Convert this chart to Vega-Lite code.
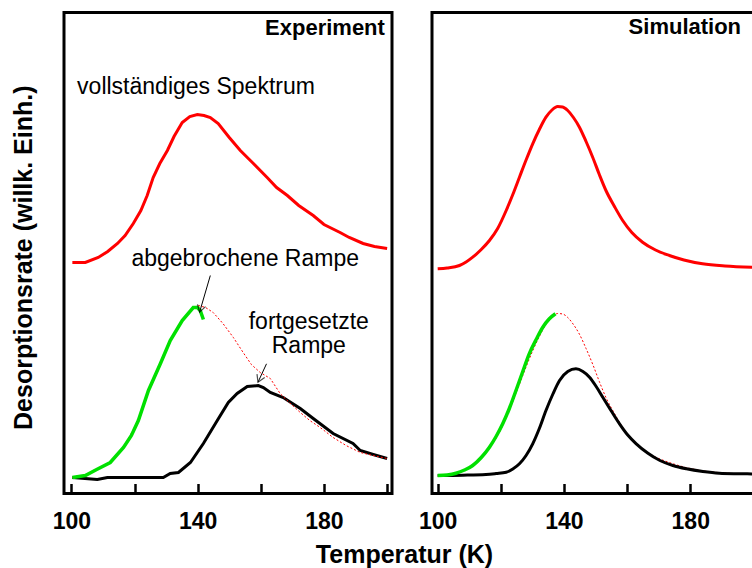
{
  "$schema": "https://vega.github.io/schema/vega-lite/v6.json",
  "background": "white",
  "padding": {"left": 9, "top": 10.5, "right": 0, "bottom": 0},
  "bounds": "flush",
  "spacing": 40,
  "config": {
    "view": {"stroke": "black", "strokeWidth": 3},
    "font": "Liberation Sans"
  },
  "datasets": {
    "curves": [
      {"p": "Experiment", "s": "voll", "T": 100.3, "y": 231},
      {"p": "Experiment", "s": "voll", "T": 104.4, "y": 231},
      {"p": "Experiment", "s": "voll", "T": 108.5, "y": 236},
      {"p": "Experiment", "s": "voll", "T": 111.5, "y": 242},
      {"p": "Experiment", "s": "voll", "T": 114.6, "y": 250},
      {"p": "Experiment", "s": "voll", "T": 117, "y": 258},
      {"p": "Experiment", "s": "voll", "T": 119.6, "y": 270},
      {"p": "Experiment", "s": "voll", "T": 122, "y": 283},
      {"p": "Experiment", "s": "voll", "T": 124, "y": 298},
      {"p": "Experiment", "s": "voll", "T": 125.9, "y": 316},
      {"p": "Experiment", "s": "voll", "T": 128, "y": 330},
      {"p": "Experiment", "s": "voll", "T": 130.4, "y": 343},
      {"p": "Experiment", "s": "voll", "T": 132.5, "y": 357},
      {"p": "Experiment", "s": "voll", "T": 135.1, "y": 371},
      {"p": "Experiment", "s": "voll", "T": 137.5, "y": 377},
      {"p": "Experiment", "s": "voll", "T": 139.9, "y": 379},
      {"p": "Experiment", "s": "voll", "T": 142, "y": 378},
      {"p": "Experiment", "s": "voll", "T": 144, "y": 376},
      {"p": "Experiment", "s": "voll", "T": 146.5, "y": 370},
      {"p": "Experiment", "s": "voll", "T": 150, "y": 356},
      {"p": "Experiment", "s": "voll", "T": 153.5, "y": 343},
      {"p": "Experiment", "s": "voll", "T": 157, "y": 332},
      {"p": "Experiment", "s": "voll", "T": 162, "y": 316},
      {"p": "Experiment", "s": "voll", "T": 165, "y": 306},
      {"p": "Experiment", "s": "voll", "T": 168.4, "y": 298},
      {"p": "Experiment", "s": "voll", "T": 172, "y": 288},
      {"p": "Experiment", "s": "voll", "T": 176.6, "y": 278},
      {"p": "Experiment", "s": "voll", "T": 180, "y": 269},
      {"p": "Experiment", "s": "voll", "T": 185.1, "y": 261},
      {"p": "Experiment", "s": "voll", "T": 188, "y": 256},
      {"p": "Experiment", "s": "voll", "T": 192.4, "y": 250},
      {"p": "Experiment", "s": "voll", "T": 196, "y": 247},
      {"p": "Experiment", "s": "voll", "T": 200, "y": 245},

      {"p": "Experiment", "s": "ref", "T": 100.3, "y": 16},
      {"p": "Experiment", "s": "ref", "T": 104.4, "y": 18},
      {"p": "Experiment", "s": "ref", "T": 108, "y": 24},
      {"p": "Experiment", "s": "ref", "T": 112.3, "y": 31},
      {"p": "Experiment", "s": "ref", "T": 116.5, "y": 46},
      {"p": "Experiment", "s": "ref", "T": 121.2, "y": 73},
      {"p": "Experiment", "s": "ref", "T": 124.4, "y": 103},
      {"p": "Experiment", "s": "ref", "T": 128.2, "y": 130},
      {"p": "Experiment", "s": "ref", "T": 131.3, "y": 153},
      {"p": "Experiment", "s": "ref", "T": 135.1, "y": 173},
      {"p": "Experiment", "s": "ref", "T": 138.6, "y": 186},
      {"p": "Experiment", "s": "ref", "T": 140.2, "y": 188},
      {"p": "Experiment", "s": "ref", "T": 142.5, "y": 186},
      {"p": "Experiment", "s": "ref", "T": 144.9, "y": 181},
      {"p": "Experiment", "s": "ref", "T": 148, "y": 170},
      {"p": "Experiment", "s": "ref", "T": 151.3, "y": 156},
      {"p": "Experiment", "s": "ref", "T": 154.4, "y": 141},
      {"p": "Experiment", "s": "ref", "T": 157, "y": 129},
      {"p": "Experiment", "s": "ref", "T": 159.8, "y": 121},
      {"p": "Experiment", "s": "ref", "T": 163, "y": 115},
      {"p": "Experiment", "s": "ref", "T": 166.1, "y": 100},
      {"p": "Experiment", "s": "ref", "T": 169, "y": 91},
      {"p": "Experiment", "s": "ref", "T": 172.5, "y": 81},
      {"p": "Experiment", "s": "ref", "T": 175.5, "y": 73},
      {"p": "Experiment", "s": "ref", "T": 178.8, "y": 66},
      {"p": "Experiment", "s": "ref", "T": 182.9, "y": 56},
      {"p": "Experiment", "s": "ref", "T": 187, "y": 48},
      {"p": "Experiment", "s": "ref", "T": 191.5, "y": 41},
      {"p": "Experiment", "s": "ref", "T": 195.6, "y": 38},
      {"p": "Experiment", "s": "ref", "T": 200, "y": 35},

      {"p": "Experiment", "s": "abgebrochen", "T": 100.3, "y": 16},
      {"p": "Experiment", "s": "abgebrochen", "T": 104.4, "y": 18},
      {"p": "Experiment", "s": "abgebrochen", "T": 108, "y": 24},
      {"p": "Experiment", "s": "abgebrochen", "T": 112.3, "y": 31},
      {"p": "Experiment", "s": "abgebrochen", "T": 116.5, "y": 46},
      {"p": "Experiment", "s": "abgebrochen", "T": 119, "y": 58},
      {"p": "Experiment", "s": "abgebrochen", "T": 121.2, "y": 73},
      {"p": "Experiment", "s": "abgebrochen", "T": 124.4, "y": 103},
      {"p": "Experiment", "s": "abgebrochen", "T": 128.2, "y": 130},
      {"p": "Experiment", "s": "abgebrochen", "T": 131.3, "y": 153},
      {"p": "Experiment", "s": "abgebrochen", "T": 135.1, "y": 173},
      {"p": "Experiment", "s": "abgebrochen", "T": 138.6, "y": 186},
      {"p": "Experiment", "s": "abgebrochen", "T": 139.9, "y": 186},
      {"p": "Experiment", "s": "abgebrochen", "T": 140.8, "y": 183},
      {"p": "Experiment", "s": "abgebrochen", "T": 141.8, "y": 174},

      {"p": "Experiment", "s": "fortgesetzt", "T": 100.3, "y": 16},
      {"p": "Experiment", "s": "fortgesetzt", "T": 108.2, "y": 14},
      {"p": "Experiment", "s": "fortgesetzt", "T": 111.4, "y": 16},
      {"p": "Experiment", "s": "fortgesetzt", "T": 129.1, "y": 16},
      {"p": "Experiment", "s": "fortgesetzt", "T": 131.3, "y": 20},
      {"p": "Experiment", "s": "fortgesetzt", "T": 133.9, "y": 21},
      {"p": "Experiment", "s": "fortgesetzt", "T": 137.7, "y": 31},
      {"p": "Experiment", "s": "fortgesetzt", "T": 141.8, "y": 50},
      {"p": "Experiment", "s": "fortgesetzt", "T": 146.2, "y": 73},
      {"p": "Experiment", "s": "fortgesetzt", "T": 149.7, "y": 91},
      {"p": "Experiment", "s": "fortgesetzt", "T": 152.5, "y": 100},
      {"p": "Experiment", "s": "fortgesetzt", "T": 155.7, "y": 107},
      {"p": "Experiment", "s": "fortgesetzt", "T": 159.2, "y": 108},
      {"p": "Experiment", "s": "fortgesetzt", "T": 160.8, "y": 106},
      {"p": "Experiment", "s": "fortgesetzt", "T": 163, "y": 101},
      {"p": "Experiment", "s": "fortgesetzt", "T": 167.1, "y": 96},
      {"p": "Experiment", "s": "fortgesetzt", "T": 172.5, "y": 85},
      {"p": "Experiment", "s": "fortgesetzt", "T": 176.6, "y": 75},
      {"p": "Experiment", "s": "fortgesetzt", "T": 182.9, "y": 60},
      {"p": "Experiment", "s": "fortgesetzt", "T": 189.2, "y": 50},
      {"p": "Experiment", "s": "fortgesetzt", "T": 191.5, "y": 43},
      {"p": "Experiment", "s": "fortgesetzt", "T": 195.6, "y": 39},
      {"p": "Experiment", "s": "fortgesetzt", "T": 200, "y": 35},

      {"p": "Simulation", "s": "voll", "T": 100, "y": 224.7},
      {"p": "Simulation", "s": "voll", "T": 103, "y": 225.5},
      {"p": "Simulation", "s": "voll", "T": 106.9, "y": 228},
      {"p": "Simulation", "s": "voll", "T": 109, "y": 231.5},
      {"p": "Simulation", "s": "voll", "T": 111.1, "y": 236.3},
      {"p": "Simulation", "s": "voll", "T": 113.8, "y": 244},
      {"p": "Simulation", "s": "voll", "T": 116.4, "y": 253},
      {"p": "Simulation", "s": "voll", "T": 119, "y": 265},
      {"p": "Simulation", "s": "voll", "T": 121.7, "y": 283},
      {"p": "Simulation", "s": "voll", "T": 123.8, "y": 299},
      {"p": "Simulation", "s": "voll", "T": 125.9, "y": 316.3},
      {"p": "Simulation", "s": "voll", "T": 128, "y": 333.5},
      {"p": "Simulation", "s": "voll", "T": 130.1, "y": 349.7},
      {"p": "Simulation", "s": "voll", "T": 132.2, "y": 364},
      {"p": "Simulation", "s": "voll", "T": 134.3, "y": 376.3},
      {"p": "Simulation", "s": "voll", "T": 136.2, "y": 383.5},
      {"p": "Simulation", "s": "voll", "T": 138, "y": 387},
      {"p": "Simulation", "s": "voll", "T": 139.6, "y": 386.5},
      {"p": "Simulation", "s": "voll", "T": 141.2, "y": 383},
      {"p": "Simulation", "s": "voll", "T": 143, "y": 376},
      {"p": "Simulation", "s": "voll", "T": 144.9, "y": 366.3},
      {"p": "Simulation", "s": "voll", "T": 147, "y": 352},
      {"p": "Simulation", "s": "voll", "T": 149.1, "y": 336.3},
      {"p": "Simulation", "s": "voll", "T": 151.2, "y": 319},
      {"p": "Simulation", "s": "voll", "T": 153.3, "y": 303},
      {"p": "Simulation", "s": "voll", "T": 156, "y": 287},
      {"p": "Simulation", "s": "voll", "T": 158.6, "y": 273},
      {"p": "Simulation", "s": "voll", "T": 161.5, "y": 261},
      {"p": "Simulation", "s": "voll", "T": 164.9, "y": 251.3},
      {"p": "Simulation", "s": "voll", "T": 169, "y": 243.5},
      {"p": "Simulation", "s": "voll", "T": 173.4, "y": 238},
      {"p": "Simulation", "s": "voll", "T": 178, "y": 233.5},
      {"p": "Simulation", "s": "voll", "T": 183.9, "y": 229.7},
      {"p": "Simulation", "s": "voll", "T": 191, "y": 227.5},
      {"p": "Simulation", "s": "voll", "T": 200, "y": 226.2},

      {"p": "Simulation", "s": "ref", "T": 100, "y": 17.7},
      {"p": "Simulation", "s": "ref", "T": 103, "y": 18.5},
      {"p": "Simulation", "s": "ref", "T": 106.9, "y": 21},
      {"p": "Simulation", "s": "ref", "T": 109, "y": 24.5},
      {"p": "Simulation", "s": "ref", "T": 111.1, "y": 29.3},
      {"p": "Simulation", "s": "ref", "T": 113.8, "y": 37},
      {"p": "Simulation", "s": "ref", "T": 116.4, "y": 46},
      {"p": "Simulation", "s": "ref", "T": 119, "y": 58},
      {"p": "Simulation", "s": "ref", "T": 121.7, "y": 76},
      {"p": "Simulation", "s": "ref", "T": 123.8, "y": 92},
      {"p": "Simulation", "s": "ref", "T": 125.9, "y": 109.3},
      {"p": "Simulation", "s": "ref", "T": 128, "y": 126.5},
      {"p": "Simulation", "s": "ref", "T": 130.1, "y": 142.7},
      {"p": "Simulation", "s": "ref", "T": 132.2, "y": 157},
      {"p": "Simulation", "s": "ref", "T": 134.3, "y": 169.3},
      {"p": "Simulation", "s": "ref", "T": 136.2, "y": 176.5},
      {"p": "Simulation", "s": "ref", "T": 138, "y": 180},
      {"p": "Simulation", "s": "ref", "T": 139.6, "y": 179.5},
      {"p": "Simulation", "s": "ref", "T": 141.2, "y": 176},
      {"p": "Simulation", "s": "ref", "T": 143, "y": 169},
      {"p": "Simulation", "s": "ref", "T": 144.9, "y": 159.3},
      {"p": "Simulation", "s": "ref", "T": 147, "y": 145},
      {"p": "Simulation", "s": "ref", "T": 149.1, "y": 129.3},
      {"p": "Simulation", "s": "ref", "T": 151.2, "y": 112},
      {"p": "Simulation", "s": "ref", "T": 153.3, "y": 96},
      {"p": "Simulation", "s": "ref", "T": 156, "y": 80},
      {"p": "Simulation", "s": "ref", "T": 158.6, "y": 66},
      {"p": "Simulation", "s": "ref", "T": 161.5, "y": 54},
      {"p": "Simulation", "s": "ref", "T": 164.9, "y": 44.3},
      {"p": "Simulation", "s": "ref", "T": 169, "y": 36.5},
      {"p": "Simulation", "s": "ref", "T": 173.4, "y": 31},
      {"p": "Simulation", "s": "ref", "T": 178, "y": 26.5},
      {"p": "Simulation", "s": "ref", "T": 183.9, "y": 22.7},
      {"p": "Simulation", "s": "ref", "T": 191, "y": 20.5},
      {"p": "Simulation", "s": "ref", "T": 200, "y": 19.2},

      {"p": "Simulation", "s": "abgebrochen", "T": 100, "y": 18},
      {"p": "Simulation", "s": "abgebrochen", "T": 103, "y": 18.6},
      {"p": "Simulation", "s": "abgebrochen", "T": 105.8, "y": 20.3},
      {"p": "Simulation", "s": "abgebrochen", "T": 108.5, "y": 23.5},
      {"p": "Simulation", "s": "abgebrochen", "T": 111.1, "y": 28},
      {"p": "Simulation", "s": "abgebrochen", "T": 113.8, "y": 36},
      {"p": "Simulation", "s": "abgebrochen", "T": 116.4, "y": 46.3},
      {"p": "Simulation", "s": "abgebrochen", "T": 118.5, "y": 57},
      {"p": "Simulation", "s": "abgebrochen", "T": 120.6, "y": 69.7},
      {"p": "Simulation", "s": "abgebrochen", "T": 122.7, "y": 85},
      {"p": "Simulation", "s": "abgebrochen", "T": 124.8, "y": 103},
      {"p": "Simulation", "s": "abgebrochen", "T": 126.9, "y": 121.5},
      {"p": "Simulation", "s": "abgebrochen", "T": 129, "y": 139.7},
      {"p": "Simulation", "s": "abgebrochen", "T": 131.2, "y": 154},
      {"p": "Simulation", "s": "abgebrochen", "T": 133.3, "y": 166.3},
      {"p": "Simulation", "s": "abgebrochen", "T": 135.3, "y": 174.5},
      {"p": "Simulation", "s": "abgebrochen", "T": 137.3, "y": 179.7},

      {"p": "Simulation", "s": "fortgesetzt", "T": 100, "y": 18},
      {"p": "Simulation", "s": "fortgesetzt", "T": 108, "y": 18.3},
      {"p": "Simulation", "s": "fortgesetzt", "T": 115.3, "y": 19},
      {"p": "Simulation", "s": "fortgesetzt", "T": 118.5, "y": 20},
      {"p": "Simulation", "s": "fortgesetzt", "T": 121.7, "y": 21.3},
      {"p": "Simulation", "s": "fortgesetzt", "T": 123.8, "y": 24.5},
      {"p": "Simulation", "s": "fortgesetzt", "T": 125.9, "y": 29.7},
      {"p": "Simulation", "s": "fortgesetzt", "T": 128, "y": 38},
      {"p": "Simulation", "s": "fortgesetzt", "T": 130.1, "y": 49.7},
      {"p": "Simulation", "s": "fortgesetzt", "T": 132.2, "y": 65},
      {"p": "Simulation", "s": "fortgesetzt", "T": 134.3, "y": 83},
      {"p": "Simulation", "s": "fortgesetzt", "T": 136.5, "y": 99.5},
      {"p": "Simulation", "s": "fortgesetzt", "T": 138.6, "y": 113},
      {"p": "Simulation", "s": "fortgesetzt", "T": 141.2, "y": 122},
      {"p": "Simulation", "s": "fortgesetzt", "T": 143.8, "y": 124.7},
      {"p": "Simulation", "s": "fortgesetzt", "T": 146, "y": 122},
      {"p": "Simulation", "s": "fortgesetzt", "T": 148.1, "y": 116.3},
      {"p": "Simulation", "s": "fortgesetzt", "T": 150.2, "y": 107},
      {"p": "Simulation", "s": "fortgesetzt", "T": 152.3, "y": 96.3},
      {"p": "Simulation", "s": "fortgesetzt", "T": 155, "y": 82.5},
      {"p": "Simulation", "s": "fortgesetzt", "T": 157.6, "y": 69.7},
      {"p": "Simulation", "s": "fortgesetzt", "T": 160.2, "y": 58.5},
      {"p": "Simulation", "s": "fortgesetzt", "T": 162.9, "y": 49.7},
      {"p": "Simulation", "s": "fortgesetzt", "T": 166.5, "y": 40.5},
      {"p": "Simulation", "s": "fortgesetzt", "T": 170.4, "y": 33},
      {"p": "Simulation", "s": "fortgesetzt", "T": 174.5, "y": 28},
      {"p": "Simulation", "s": "fortgesetzt", "T": 178.8, "y": 24.7},
      {"p": "Simulation", "s": "fortgesetzt", "T": 184, "y": 22},
      {"p": "Simulation", "s": "fortgesetzt", "T": 189.2, "y": 20.3},
      {"p": "Simulation", "s": "fortgesetzt", "T": 195, "y": 19.8},
      {"p": "Simulation", "s": "fortgesetzt", "T": 200, "y": 19.6}
    ],
    "panelTitles": [
      {"p": "Experiment", "text": "Experiment", "T": 199.3, "y": 459},
      {"p": "Simulation", "text": "Simulation", "T": 196.1, "y": 459.7}
    ],
    "notesLeft": [
      {"p": "Experiment", "text": "vollständiges Spektrum", "T": 101.8, "y": 399.7}
    ],
    "notesCenter": [
      {"p": "Experiment", "text": "abgebrochene Rampe", "T": 155.05, "y": 228},
      {"p": "Experiment", "text": "fortgesetzte", "T": 175.2, "y": 164.7},
      {"p": "Experiment", "text": "Rampe", "T": 175.2, "y": 140.3}
    ],
    "arrows": [
      {"id": 1, "T": 144.0, "y": 218, "T2": 140.6, "y2": 181.3},
      {"id": 2, "T": 161.8, "y": 129.7, "T2": 159.1, "y2": 111.3}
    ]
  },
  "hconcat": [
    {
      "width": 328,
      "height": 481,
      "encoding": {
        "x": {
          "field": "T", "type": "quantitative",
          "scale": {"domain": [97.65, 201.55], "nice": false, "zero": false},
          "axis": {
            "values": [100, 120, 140, 160, 180, 200],
            "labelExpr": "datum.value == 100 || datum.value == 140 || datum.value == 180 ? datum.label : ''",
            "labelFont": "Liberation Sans", "labelFontSize": 23, "labelFontWeight": "bold", "labelColor": "black",
            "labelFlush": false, "labelOverlap": false, "labelPadding": 27,
            "tickSize": -10, "tickWidth": 2.5, "tickColor": "black",
            "domain": false, "grid": false,
            "title": "Temperatur (K)",
            "titleFont": "Liberation Sans", "titleFontSize": 25, "titleFontWeight": "bold", "titleColor": "black",
            "titleX": 340, "titleY": 69, "titleAlign": "center", "titleBaseline": "alphabetic"
          }
        },
        "y": {
          "field": "y", "type": "quantitative",
          "scale": {"domain": [0, 481], "nice": false, "zero": false},
          "axis": {
            "title": "Desorptionsrate (willk. Einh.)",
            "labels": false, "ticks": false, "domain": false, "grid": false,
            "titleFont": "Liberation Sans", "titleFontSize": 25, "titleFontWeight": "bold", "titleColor": "black",
            "titleX": -32.6, "titleY": 244.7, "titleAngle": -90, "titleAlign": "center", "titleBaseline": "alphabetic"
          }
        }
      },
      "layer": [
        {
          "data": {"name": "curves"},
          "transform": [{"filter": "datum.p == 'Experiment' && datum.s == 'voll'"}],
          "mark": {"type": "line", "color": "#ff0000", "strokeWidth": 3}
        },
        {
          "data": {"name": "curves"},
          "transform": [{"filter": "datum.p == 'Experiment' && datum.s == 'fortgesetzt'"}],
          "mark": {"type": "line", "color": "#000000", "strokeWidth": 3}
        },
        {
          "data": {"name": "curves"},
          "transform": [{"filter": "datum.p == 'Experiment' && datum.s == 'ref'"}],
          "mark": {"type": "line", "color": "#ff0000", "strokeWidth": 1, "strokeDash": [2, 2]}
        },
        {
          "data": {"name": "curves"},
          "transform": [{"filter": "datum.p == 'Experiment' && datum.s == 'abgebrochen'"}],
          "mark": {"type": "line", "color": "#00e000", "strokeWidth": 3.5}
        },
        {
          "data": {"name": "arrows"},
          "mark": {"type": "rule", "color": "black", "strokeWidth": 1},
          "encoding": {"x2": {"field": "T2"}, "y2": {"field": "y2"}}
        },
        {
          "data": {"name": "arrows"},
          "transform": [{"filter": "datum.id == 1"}],
          "mark": {"type": "point", "shape": "M-0.6,-1L0,0L0.6,-1", "size": 196, "filled": false, "color": "black", "strokeWidth": 1.2, "angle": 16},
          "encoding": {"x": {"field": "T2", "type": "quantitative"}, "y": {"field": "y2", "type": "quantitative"}}
        },
        {
          "data": {"name": "arrows"},
          "transform": [{"filter": "datum.id == 2"}],
          "mark": {"type": "point", "shape": "M-0.6,-1L0,0L0.6,-1", "size": 196, "filled": false, "color": "black", "strokeWidth": 1.2, "angle": 24},
          "encoding": {"x": {"field": "T2", "type": "quantitative"}, "y": {"field": "y2", "type": "quantitative"}}
        },
        {
          "data": {"name": "panelTitles"},
          "transform": [{"filter": "datum.p == 'Experiment'"}],
          "mark": {"type": "text", "align": "right", "baseline": "alphabetic", "font": "Liberation Sans", "fontSize": 22, "fontWeight": "bold", "color": "black"},
          "encoding": {"text": {"field": "text"}}
        },
        {
          "data": {"name": "notesLeft"},
          "mark": {"type": "text", "align": "left", "baseline": "alphabetic", "font": "Liberation Sans", "fontSize": 23, "color": "black"},
          "encoding": {"text": {"field": "text"}}
        },
        {
          "data": {"name": "notesCenter"},
          "mark": {"type": "text", "align": "center", "baseline": "alphabetic", "font": "Liberation Sans", "fontSize": 23, "color": "black"},
          "encoding": {"text": {"field": "text"}}
        }
      ]
    },
    {
      "width": 328,
      "height": 481,
      "encoding": {
        "x": {
          "field": "T", "type": "quantitative",
          "scale": {"domain": [98.2, 202.1], "nice": false, "zero": false},
          "axis": {
            "values": [100, 120, 140, 160, 180, 200],
            "labelExpr": "datum.value == 100 || datum.value == 140 || datum.value == 180 ? datum.label : ''",
            "labelFont": "Liberation Sans", "labelFontSize": 23, "labelFontWeight": "bold", "labelColor": "black",
            "labelFlush": false, "labelOverlap": false, "labelPadding": 27,
            "tickSize": -10, "tickWidth": 2.5, "tickColor": "black",
            "domain": false, "grid": false,
            "title": null
          }
        },
        "y": {
          "field": "y", "type": "quantitative",
          "scale": {"domain": [0, 481], "nice": false, "zero": false},
          "axis": null
        }
      },
      "layer": [
        {
          "data": {"name": "curves"},
          "transform": [{"filter": "datum.p == 'Simulation' && datum.s == 'voll'"}],
          "mark": {"type": "line", "color": "#ff0000", "strokeWidth": 3, "interpolate": "monotone"}
        },
        {
          "data": {"name": "curves"},
          "transform": [{"filter": "datum.p == 'Simulation' && datum.s == 'ref'"}],
          "mark": {"type": "line", "color": "#ff0000", "strokeWidth": 1, "strokeDash": [2, 2], "interpolate": "monotone"}
        },
        {
          "data": {"name": "curves"},
          "transform": [{"filter": "datum.p == 'Simulation' && datum.s == 'fortgesetzt'"}],
          "mark": {"type": "line", "color": "#000000", "strokeWidth": 3, "interpolate": "monotone"}
        },
        {
          "data": {"name": "curves"},
          "transform": [{"filter": "datum.p == 'Simulation' && datum.s == 'abgebrochen'"}],
          "mark": {"type": "line", "color": "#00e000", "strokeWidth": 3.5, "interpolate": "monotone"}
        },
        {
          "data": {"name": "panelTitles"},
          "transform": [{"filter": "datum.p == 'Simulation'"}],
          "mark": {"type": "text", "align": "right", "baseline": "alphabetic", "font": "Liberation Sans", "fontSize": 22, "fontWeight": "bold", "color": "black"},
          "encoding": {"text": {"field": "text"}}
        }
      ]
    }
  ]
}
